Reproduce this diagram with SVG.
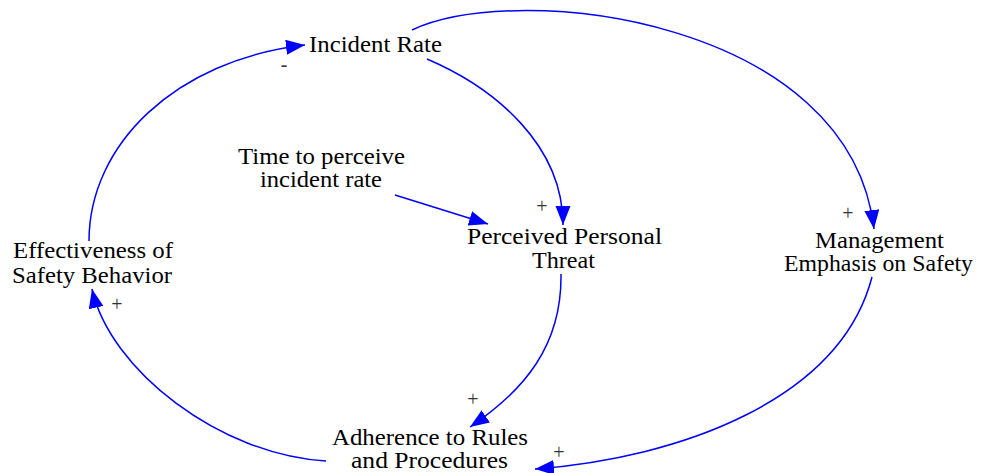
<svg xmlns="http://www.w3.org/2000/svg" width="983" height="473" viewBox="0 0 983 473">
<style>
  .lbl { font-family: "Liberation Serif", "Times New Roman", serif; font-size: 23px; fill: #000; text-anchor: middle; }
  .pol { font-family: "Liberation Serif", "Times New Roman", serif; font-size: 20px; fill: #333; text-anchor: middle; }
  .lnk { fill: none; stroke: #0000FF; stroke-width: 1.5; marker-end: url(#ah); }
</style>
<defs>
  <marker id="ah" markerUnits="userSpaceOnUse" markerWidth="20" markerHeight="16" refX="19" refY="7.5" orient="auto">
    <path d="M0,0 L19,7.5 L0,15 z" fill="#0000FF"/>
  </marker>
</defs>
<rect width="983" height="473" fill="#fff"/>
<g id="connectors">
  <path class="lnk" d="M89,241 C89,145 175,60 305,45"/>
  <path class="lnk" d="M427,59 C495,88 563,145 563,225"/>
  <path class="lnk" d="M412,30 C520,-20 850,20 874,229"/>
  <path class="lnk" d="M395,195 L488,224"/>
  <path class="lnk" d="M561,274 C562,345 525,390 470,427"/>
  <path class="lnk" d="M872,277 C840,400 680,458 535,469"/>
  <path class="lnk" d="M326,461 C220,455 110,370 92,289"/>
</g>
<g id="polarities">
  <text class="pol" x="284" y="71">-</text>
  <text class="pol" x="542" y="212.5">+</text>
  <text class="pol" x="848" y="219.5">+</text>
  <text class="pol" x="473" y="405.5">+</text>
  <text class="pol" x="559" y="458.5">+</text>
  <text class="pol" x="117" y="310.5">+</text>
</g>
<g id="incident-rate">
  <text class="lbl" x="375.5" y="52" textLength="133" lengthAdjust="spacingAndGlyphs">Incident Rate</text>
</g>
<g id="time-to-perceive">
  <text class="lbl" x="321.5" y="164" textLength="167" lengthAdjust="spacingAndGlyphs">Time to perceive</text>
  <text class="lbl" x="321" y="187" textLength="122" lengthAdjust="spacingAndGlyphs">incident rate</text>
</g>
<g id="perceived-personal-threat">
  <text class="lbl" x="564.5" y="244" textLength="195" lengthAdjust="spacingAndGlyphs">Perceived Personal</text>
  <text class="lbl" x="563.5" y="268" textLength="63" lengthAdjust="spacingAndGlyphs">Threat</text>
</g>
<g id="effectiveness">
  <text class="lbl" x="93" y="258" textLength="160" lengthAdjust="spacingAndGlyphs">Effectiveness of</text>
  <text class="lbl" x="92" y="283" textLength="160" lengthAdjust="spacingAndGlyphs">Safety Behavior</text>
</g>
<g id="management-emphasis">
  <text class="lbl" x="879.5" y="248" textLength="129" lengthAdjust="spacingAndGlyphs">Management</text>
  <text class="lbl" x="878.5" y="271" textLength="189" lengthAdjust="spacingAndGlyphs">Emphasis on Safety</text>
</g>
<g id="adherence">
  <text class="lbl" x="430" y="445" textLength="196" lengthAdjust="spacingAndGlyphs">Adherence to Rules</text>
  <text class="lbl" x="429.5" y="468" textLength="157" lengthAdjust="spacingAndGlyphs">and Procedures</text>
</g>
</svg>
